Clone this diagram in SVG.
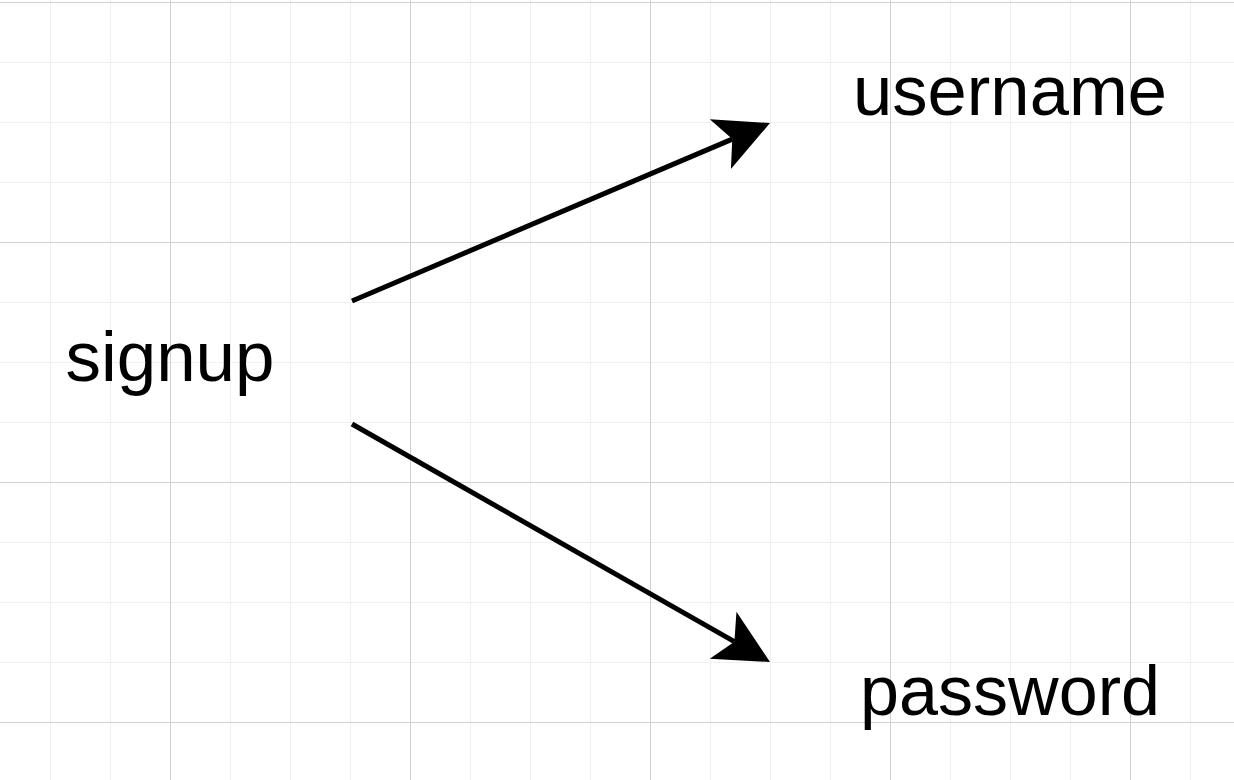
<svg xmlns="http://www.w3.org/2000/svg" width="1234" height="780" viewBox="0 0 1234 780">
  <style>
    .label { font-family: "Liberation Sans", Arial, Helvetica, sans-serif; font-size: 71px; fill: #000000; text-anchor: middle; }
    .edge { stroke: #000000; stroke-width: 5; fill: none; }
  </style>
  <defs>
    <pattern id="minor" patternUnits="userSpaceOnUse" x="50" y="2" width="60" height="60">
      <path d="M0.5,0 V60 M0,0.5 H60" stroke="#f0f0f0" stroke-width="1" fill="none"/>
    </pattern>
    <pattern id="major" patternUnits="userSpaceOnUse" x="170" y="2" width="240" height="240">
      <path d="M0.5,0 V240 M0,0.5 H240" stroke="#d0d0d0" stroke-width="1" fill="none"/>
    </pattern>
    <marker id="arrow" markerUnits="userSpaceOnUse" markerWidth="60" markerHeight="60" viewBox="0 0 60 60" refX="13" refY="30" orient="auto">
      <path d="M54,30 L0,3 L13,30 L0,57 Z" fill="#000000"/>
    </marker>
  </defs>
  <rect width="1234" height="780" fill="#ffffff"/>
  <rect width="1234" height="780" fill="url(#minor)"/>
  <rect width="1234" height="780" fill="url(#major)"/>
  <g id="connectors">
    <line class="edge" x1="352" y1="301" x2="732.3" y2="139.1" marker-end="url(#arrow)"/>
    <line class="edge" x1="352" y1="424" x2="734.4" y2="641.7" marker-end="url(#arrow)"/>
  </g>
  <g id="node-signup">
    <text class="label" x="170" y="381" textLength="209" lengthAdjust="spacingAndGlyphs">signup</text>
  </g>
  <g id="node-username">
    <text class="label" x="1010" y="115" textLength="314" lengthAdjust="spacingAndGlyphs">username</text>
  </g>
  <g id="node-password">
    <text class="label" x="1010" y="715" textLength="300" lengthAdjust="spacingAndGlyphs">password</text>
  </g>
</svg>
